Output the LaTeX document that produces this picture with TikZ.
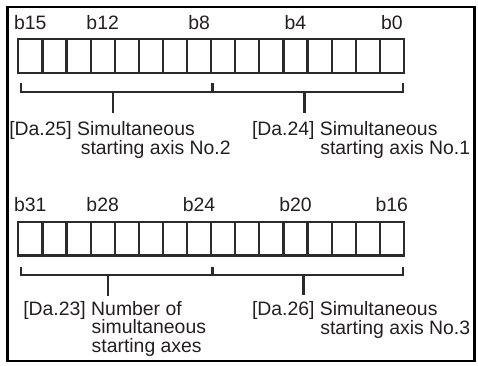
\documentclass[tikz,border=0pt]{standalone}
\usepackage{fontspec}
\setmainfont{Liberation Sans}
\definecolor{ink}{HTML}{231F20}
\definecolor{rule}{HTML}{2B2B2B}
\begin{document}
\begin{tikzpicture}[x=1pt,y=-1pt,
  txt/.style={inner sep=0pt,outer sep=0pt,text=ink,font=\fontsize{19.4}{18.5}\selectfont},
  lbl/.style={txt,anchor=base west},
  bitlbl/.style={txt,anchor=base},
  cell/.style={draw=rule,line width=2.2pt,minimum width=24.1pt,minimum height=33.4pt,
    inner sep=0pt,outer sep=0pt},
  brace/.style={draw=rule,line width=1.8pt},
  stem/.style={draw=rule,line width=2.2pt}]
\useasboundingbox (0,0) rectangle (478,365);
% outer frame
\draw[line width=2.4pt,black] (7.3,6.7) rectangle (474.3,361);

% register cells: upper word b15..b0, lower word b31..b16
\foreach \k in {0,...,15}{
  \pgfmathtruncatemacro{\hi}{15-\k}
  \pgfmathtruncatemacro{\lo}{31-\k}
  \node[cell] (c\hi) at ({18.3+24.1*(\k+0.5)},56) {};
  \node[cell] (c\lo) at ({18.3+24.1*(\k+0.5)},238.85) {};
}

% bit numbers
\foreach \b in {15,12,8,4,0}{
  \node[bitlbl] (n\b) at (c\b.center |- 0,29.5) {b\b};
}
\foreach \b in {31,28,24,20,16}{
  \node[bitlbl] (n\b) at (c\b.center |- 0,211.7) {b\b};
}

% brackets under each byte
\draw[brace] (20.7,83) -- (20.7,92) -- (211.8,92) -- (211.8,83);
\draw[brace] (213.4,83) -- (213.4,92) -- (403.3,92) -- (403.3,83);
\draw[brace] (20.7,266.7) -- (20.7,275) -- (211.8,275) -- (211.8,266.7);
\draw[brace] (213.4,266.7) -- (213.4,275) -- (403.3,275) -- (403.3,266.7);

% field labels
\node[lbl] (da25) at (9.3,135.5) {[Da.25] Simultaneous};
\node[lbl] (da25b) at (80.8,154) {starting axis No.2};
\node[lbl] (da24) at (252,135.5) {[Da.24] Simultaneous};
\node[lbl] (da24b) at (320.3,154) {starting axis No.1};
\node[lbl] (da23) at (23.3,315) {[Da.23] Number of};
\node[lbl] (da23b) at (91.7,333.5) {simultaneous};
\node[lbl] (da23c) at (91.7,352) {starting axes};
\node[lbl] (da26) at (252,315) {[Da.26] Simultaneous};
\node[lbl] (da26b) at (320.3,334) {starting axis No.3};

% stems from brackets to labels
\coordinate (s25) at (113.3,92);  \coordinate (e25) at (113.3,113);
\coordinate (s24) at (304.5,92);  \coordinate (e24) at (304.5,113);
\coordinate (s23) at (108.3,275); \coordinate (e23) at (108.3,296);
\coordinate (s26) at (303.5,275); \coordinate (e26) at (303.5,295);
\draw[stem] (s25) -- (e25);
\draw[stem] (s24) -- (e24);
\draw[stem] (s23) -- (e23);
\draw[stem] (s26) -- (e26);
\end{tikzpicture}
\end{document}
